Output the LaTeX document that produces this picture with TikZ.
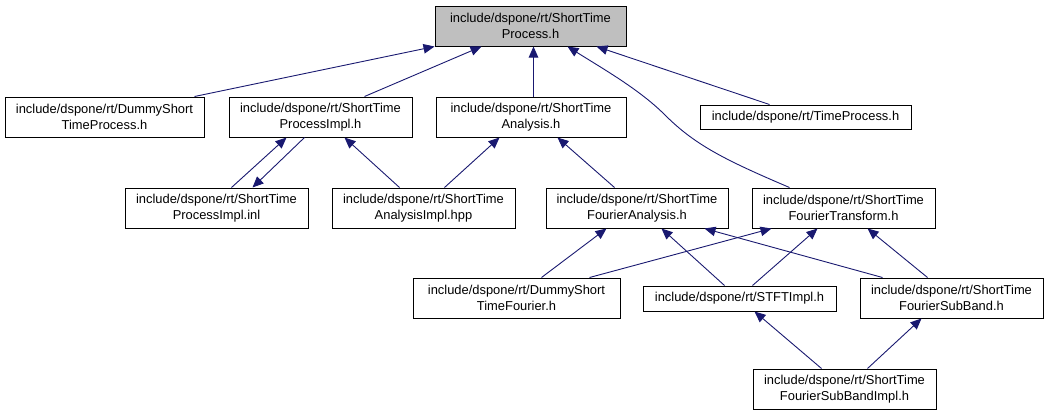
\documentclass[tikz,border=0pt]{standalone}
\usepackage{fontspec}
\setmainfont{Liberation Sans}
\usetikzlibrary{arrows.meta}
\definecolor{edgeblue}{RGB}{25,25,112}
\definecolor{topfill}{RGB}{191,191,191}
\begin{document}
\begin{tikzpicture}[x=1pt,y=-1pt,
  box/.style={draw=black,line width=1pt,fill=white,inner sep=0pt,align=center,
    font=\fontsize{12.9}{15.5}\selectfont,minimum height=40pt},
  edge/.style={draw=edgeblue,line width=0.9pt,-{Triangle[length=11pt,width=9.5pt]}}]
\useasboundingbox (0,0) rectangle (1055,416);
% nodes
\node[box,fill=topfill,minimum width=191pt] (top) at (530.5,26) {include/dspone/rt/ShortTime\\Process.h};
\node[box,minimum width=199pt] (dstp) at (104.5,117) {include/dspone/rt/DummyShort\\TimeProcess.h};
\node[box,minimum width=183pt] (stpimpl) at (320.5,117) {include/dspone/rt/ShortTime\\ProcessImpl.h};
\node[box,minimum width=190pt] (sta) at (531,117) {include/dspone/rt/ShortTime\\Analysis.h};
\node[box,minimum width=211pt,minimum height=24pt] (tp) at (805.5,117) {include/dspone/rt/TimeProcess.h};
\node[box,minimum width=183pt] (inl) at (216.5,208) {include/dspone/rt/ShortTime\\ProcessImpl.inl};
\node[box,minimum width=183pt] (aimpl) at (423.5,208) {include/dspone/rt/ShortTime\\AnalysisImpl.hpp};
\node[box,minimum width=182pt] (stfa) at (637,208) {include/dspone/rt/ShortTime\\FourierAnalysis.h};
\node[box,minimum width=183pt] (stft) at (843.5,208) {include/dspone/rt/ShortTime\\FourierTransform.h};
\node[box,minimum width=207pt] (dstf) at (516.5,298) {include/dspone/rt/DummyShort\\TimeFourier.h};
\node[box,minimum width=193pt,minimum height=25pt] (stftimpl) at (739.5,298.5) {include/dspone/rt/STFTImpl.h};
\node[box,minimum width=183pt] (sub) at (951.5,298) {include/dspone/rt/ShortTime\\FourierSubBand.h};
\node[box,minimum width=183pt] (subimpl) at (844.5,389) {include/dspone/rt/ShortTime\\FourierSubBandImpl.h};
% edges
\draw[edge] ([xshift=190pt]dstp.north west) -- ([xshift=0pt]top.south west);
\draw[edge] ([xshift=136pt]stpimpl.north west) -- ([xshift=47pt]top.south west);
\draw[edge] ([xshift=98pt]sta.north west) -- ([xshift=99pt]top.south west);
\draw[edge] ([xshift=38pt]stft.north west) .. controls (725,160) and (695,145) .. (665,115)
  .. controls (640,90) and (605,70) .. ([xshift=133pt]top.south west);
\draw[edge] ([xshift=70pt]tp.north west) -- ([xshift=162pt]top.south west);
\draw[edge] ([xshift=107pt]inl.north west) -- ([xshift=58pt]stpimpl.south west);
\draw[edge] ([xshift=76pt]stpimpl.south west) -- ([xshift=128pt]inl.north west);
\draw[edge] ([xshift=68pt]aimpl.north west) -- ([xshift=116pt]stpimpl.south west);
\draw[edge] ([xshift=113pt]aimpl.north west) -- ([xshift=64pt]sta.south west);
\draw[edge] ([xshift=69pt]stfa.north west) -- ([xshift=122pt]sta.south west);
\draw[edge] ([xshift=129pt]dstf.north west) -- ([xshift=61pt]stfa.south west);
\draw[edge] ([xshift=177pt]dstf.north west) -- ([xshift=20pt]stft.south west);
\draw[edge] ([xshift=82pt]stftimpl.north west) -- ([xshift=116pt]stfa.south west);
\draw[edge] ([xshift=110pt]stftimpl.north west) -- ([xshift=66pt]stft.south west);
\draw[edge] ([xshift=23pt]sub.north west) -- ([xshift=159pt]stfa.south west);
\draw[edge] ([xshift=68pt]sub.north west) -- ([xshift=116pt]stft.south west);
\draw[edge] ([xshift=69pt]subimpl.north west) -- ([xshift=112pt]stftimpl.south west);
\draw[edge] ([xshift=115pt]subimpl.north west) -- ([xshift=62pt]sub.south west);
\end{tikzpicture}
\end{document}
